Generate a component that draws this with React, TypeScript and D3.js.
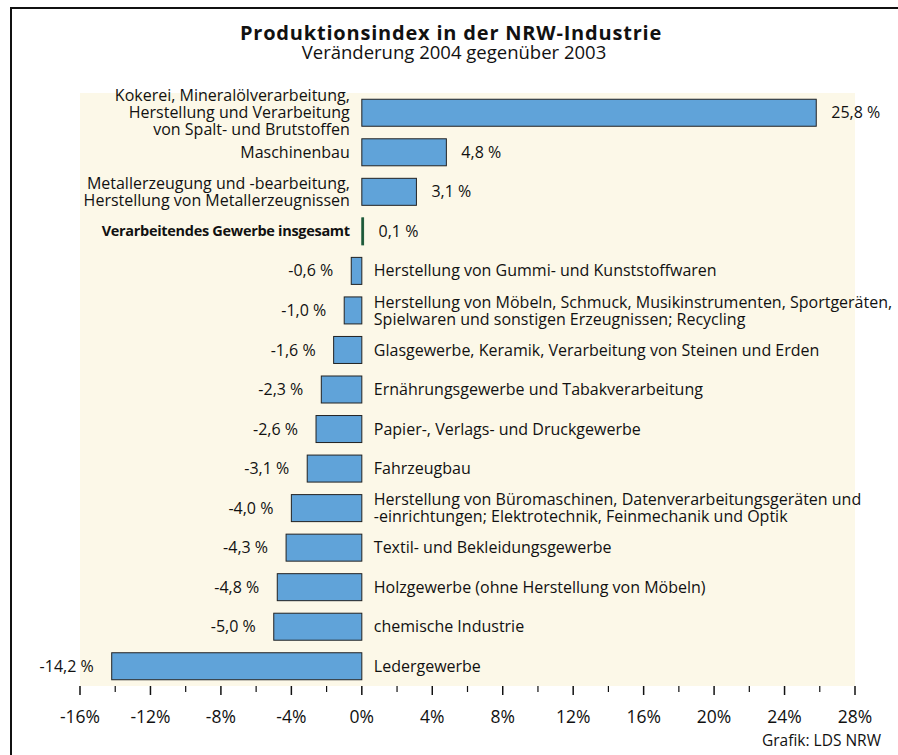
import React, { useEffect, useRef } from 'react';
import * as d3 from 'd3';

// categories (lines of each label) and values in percent
const categories: string[][] = [
  ['Kokerei, Mineralölverarbeitung,', 'Herstellung und Verarbeitung', 'von Spalt- und Brutstoffen'],
  ['Maschinenbau'],
  ['Metallerzeugung und -bearbeitung,', 'Herstellung von Metallerzeugnissen'],
  ['Verarbeitendes Gewerbe insgesamt'],
  ['Herstellung von Gummi- und Kunststoffwaren'],
  ['Herstellung von Möbeln, Schmuck, Musikinstrumenten, Sportgeräten,', 'Spielwaren und sonstigen Erzeugnissen; Recycling'],
  ['Glasgewerbe, Keramik, Verarbeitung von Steinen und Erden'],
  ['Ernährungsgewerbe und Tabakverarbeitung'],
  ['Papier-, Verlags- und Druckgewerbe'],
  ['Fahrzeugbau'],
  ['Herstellung von Büromaschinen, Datenverarbeitungsgeräten und', '-einrichtungen; Elektrotechnik, Feinmechanik und Optik'],
  ['Textil- und Bekleidungsgewerbe'],
  ['Holzgewerbe (ohne Herstellung von Möbeln)'],
  ['chemische Industrie'],
  ['Ledergewerbe'],
];
const values: number[] = [25.8, 4.8, 3.1, 0.1, -0.6, -1.0, -1.6, -2.3, -2.6, -3.1, -4.0, -4.3, -4.8, -5.0, -14.2];
const totalIndex = 3;
const majorTicks: number[] = [-16, -12, -8, -4, 0, 4, 8, 12, 16, 20, 24, 28];
const minorTicks: number[] = [-14, -10, -6, -2, 2, 6, 10, 14, 18, 22, 26];

const W = 898;
const H = 755;
const FONT = '"Open Sans", "DejaVu Sans", sans-serif';

const fmtValue = (d: number) => (d < 0 ? '-' : '') + Math.abs(d).toFixed(1).replace('.', ',') + ' %';

const App = () => {
  const ref = useRef<SVGSVGElement>(null);

  useEffect(() => {
    const svg = d3.select(ref.current);
    svg.selectAll('*').remove();

    // plot area
    const plot_x0 = 80;
    const plot_x1 = 855;
    const plot_y0 = 93;
    const plot_y1 = 686;
    const line_h = 17;
    const label_size = '16px';

    const x = d3.scaleLinear().domain([-16, 28]).range([plot_x0, plot_x1]);
    const y = d3.scaleBand<number>()
      .domain(values.map((_, i) => i))
      .range([plot_y0, plot_y1])
      .paddingInner(0.317)
      .paddingOuter(0.158);

    // frame (right and bottom edges are outside the picture)
    svg.append('rect')
      .attr('x', 11).attr('y', 8)
      .attr('width', 900).attr('height', 760)
      .attr('fill', '#fff')
      .attr('stroke', '#111')
      .attr('stroke-width', 2);

    // background
    svg.append('rect')
      .attr('x', plot_x0).attr('y', plot_y0)
      .attr('width', plot_x1 - plot_x0).attr('height', plot_y1 - plot_y0)
      .attr('fill', '#fcf8e8');

    // title
    svg.append('text')
      .attr('x', 451).attr('y', 40)
      .attr('text-anchor', 'middle')
      .style('font-size', '20px')
      .style('font-weight', 'bold')
      .style('letter-spacing', '0.8px')
      .attr('fill', '#111')
      .text('Produktionsindex in der NRW-Industrie');

    svg.append('text')
      .attr('x', 454).attr('y', 59)
      .attr('text-anchor', 'middle')
      .style('font-size', '18.5px')
      .attr('fill', '#111')
      .text('Veränderung 2004 gegenüber 2003');

    const x0 = x(0);

    // bars
    svg.selectAll('.bar')
      .data(values)
      .enter().append('rect')
      .attr('class', 'bar')
      .attr('x', d => x(Math.min(0, d)))
      .attr('y', (_, i) => y(i)!)
      .attr('width', d => Math.abs(x(d) - x0))
      .attr('height', y.bandwidth())
      .attr('fill', (_, i) => i === totalIndex ? '#1d5a3a' : '#60a3d9')
      .attr('stroke', (_, i) => i === totalIndex ? '#1d5a3a' : '#222')
      .attr('stroke-width', 1);

    // value labels
    svg.selectAll('.val')
      .data(values)
      .enter().append('text')
      .attr('class', 'val')
      .attr('x', d => d >= 0 ? x(d) + 15 : x(d) - 18)
      .attr('y', (_, i) => y(i)! + y.bandwidth() / 2)
      .attr('dy', '0.35em')
      .attr('text-anchor', d => d >= 0 ? 'start' : 'end')
      .style('font-size', label_size)
      .attr('fill', '#111')
      .text(d => fmtValue(d));

    // category labels
    const cats = svg.selectAll('.cat')
      .data(categories)
      .enter().append('text')
      .attr('class', 'cat')
      .attr('text-anchor', (_, i) => values[i] >= 0 ? 'end' : 'start')
      .style('font-size', (_, i) => i === totalIndex ? '14.5px' : label_size)
      .style('font-weight', (_, i) => i === totalIndex ? 'bold' : 'normal')
      .style('letter-spacing', (_, i) => i === totalIndex ? '-0.3px' : 'normal')
      .attr('fill', '#111');

    cats.each(function (lines, i) {
      const cy = y(i)! + y.bandwidth() / 2;
      const top = cy - (lines.length - 1) * line_h / 2;
      d3.select(this).selectAll('tspan')
        .data(lines)
        .enter().append('tspan')
        .attr('x', values[i] >= 0 ? x0 - 12 : x0 + 12)
        .attr('y', (_, j) => top + j * line_h)
        .attr('dy', '0.35em')
        .text(d => d);
    });

    // axis ticks
    svg.selectAll('.major')
      .data(majorTicks)
      .enter().append('line')
      .attr('x1', d => x(d)).attr('x2', d => x(d))
      .attr('y1', plot_y1).attr('y2', plot_y1 + 9)
      .attr('stroke', '#111')
      .attr('stroke-width', 1.5);

    svg.selectAll('.minor')
      .data(minorTicks)
      .enter().append('line')
      .attr('x1', d => x(d)).attr('x2', d => x(d))
      .attr('y1', plot_y1).attr('y2', plot_y1 + 6)
      .attr('stroke', '#111')
      .attr('stroke-width', 1.2);

    svg.selectAll('.tick-label')
      .data(majorTicks)
      .enter().append('text')
      .attr('x', d => x(d))
      .attr('y', 723)
      .attr('text-anchor', 'middle')
      .style('font-size', '17.5px')
      .attr('fill', '#111')
      .text(d => d + '%');

    // source
    svg.append('text')
      .attr('x', 881).attr('y', 746)
      .attr('text-anchor', 'end')
      .style('font-size', '15.5px')
      .attr('fill', '#111')
      .text('Grafik: LDS NRW');
  }, []);

  return (
    <svg
      ref={ref}
      width={W}
      height={H}
      style={{ position: 'absolute', left: 0, top: 0, display: 'block', fontFamily: FONT }}
    />
  );
};

export default App;
